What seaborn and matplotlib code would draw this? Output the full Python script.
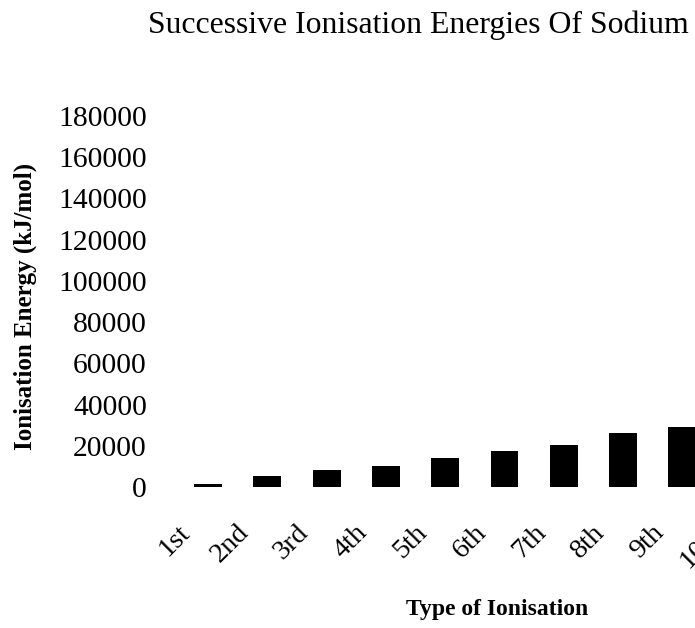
import matplotlib.pyplot as plt
import matplotlib.transforms as mtransforms
import seaborn as sns
import pandas as pd

ionisations = ["1st", "2nd", "3rd", "4th", "5th", "6th", "7th", "8th", "9th", "10th", "11th"]
energies = [1700, 5500, 8300, 10300, 14000, 17300, 20600, 26100, 29200, 141400, 159100]
yticks = list(range(0, 180001, 20000))

sns.set_theme(style="white", rc={"text.color": "black", "axes.labelcolor": "black",
                                 "xtick.color": "black", "ytick.color": "black"})
plt.rcParams['font.family'] = ['Liberation Serif', 'DejaVu Serif']

df = pd.DataFrame({"ionisation": ionisations, "energy": energies})

fig = plt.figure(figsize=(6.95, 6.28), dpi=100)
# the scan is cropped on the right, so the axes run past the figure edge
ax = fig.add_axes([0.2566, 0.2245, 0.9385, 0.5908])
sns.barplot(data=df, x="ionisation", y="energy", color="black", width=0.47,
            saturation=1, linewidth=0, ax=ax)
ax.set_xlim(-0.5, 10.5)
ax.set_ylim(0, 180000)
ax.set_yticks(yticks)
ax.set_yticklabels([str(t) for t in yticks])
ax.tick_params(axis='y', length=0, pad=22.6, labelsize=21.3)
ax.tick_params(axis='x', length=0, pad=30, labelsize=20.3)
shift = mtransforms.ScaledTranslation(-22/100, 0, fig.dpi_scale_trans)
for lab in ax.get_xticklabels():
  lab.set_rotation(45)
  lab.set_ha('right')
  lab.set_va('center')
  lab.set_rotation_mode('anchor')
  lab.set_transform(lab.get_transform() + shift)
sns.despine(ax=ax, left=True, bottom=True)

ax.set_ylabel("Ionisation Energy (kJ/mol)", fontsize=18, fontweight='bold')
ax.yaxis.set_label_coords(-0.217, 0.488)
ax.set_xlabel("Type of Ionisation", fontsize=17, fontweight='bold')
ax.xaxis.set_label_coords(0.489, -0.302)

fig.text(148/695, 1 - 33/628, "Successive Ionisation Energies Of Sodium",
         fontsize=22.9, ha='left', va='baseline')

fig.savefig("out.png", dpi=100)
